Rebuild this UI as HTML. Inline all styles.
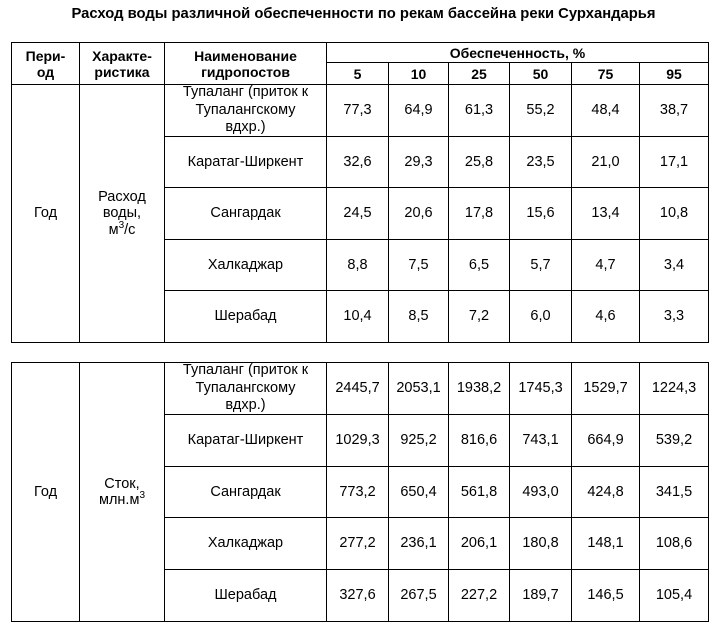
<!DOCTYPE html>
<html><head><meta charset="utf-8">
<style>
html,body{margin:0;padding:0;background:#fff;}
body{width:719px;height:630px;position:relative;overflow:hidden;font-family:"Liberation Sans",Arial,sans-serif;color:#000;}
.t{position:absolute;left:0;top:0;width:727px;height:28px;line-height:28px;text-align:center;font-weight:bold;font-size:14.8px;}
.c{position:absolute;box-sizing:border-box;border:1px solid #000;display:flex;align-items:center;justify-content:center;text-align:center;font-size:14.5px;line-height:16.5px;white-space:nowrap;}
.c > span{display:block;}
.m{line-height:17.5px;}
.h{font-weight:bold;font-size:14px;line-height:16px;}
sup{font-size:10px;vertical-align:top;position:relative;top:-1px;line-height:10px;}
</style></head><body>
<div class="t">Расход воды различной обеспеченности по рекам бассейна реки Сурхандарья</div>

<!-- Table 1 header -->
<div class="c h" style="left:11px;top:42px;width:69px;height:43px;"><span>Пери-<br>од</span></div>
<div class="c h" style="left:79px;top:42px;width:86px;height:43px;"><span>Характе-<br>ристика</span></div>
<div class="c h" style="left:164px;top:42px;width:163px;height:43px;"><span>Наименование<br>гидропостов</span></div>
<div class="c h" style="left:326px;top:42px;width:383px;height:21px;"><span>Обеспеченность, %</span></div>
<div class="c h" style="left:326px;top:62px;width:63px;height:23px;">5</div>
<div class="c h" style="left:388px;top:62px;width:61px;height:23px;">10</div>
<div class="c h" style="left:448px;top:62px;width:62px;height:23px;">25</div>
<div class="c h" style="left:509px;top:62px;width:63px;height:23px;">50</div>
<div class="c h" style="left:571px;top:62px;width:69px;height:23px;">75</div>
<div class="c h" style="left:639px;top:62px;width:70px;height:23px;">95</div>

<!-- Table 1 body -->
<div class="c" style="left:11px;top:84px;width:69px;height:259px;">Год</div>
<div class="c" style="left:79px;top:84px;width:86px;height:259px;"><span>Расход<br>воды,<br>м<sup>3</sup>/с</span></div>

<div class="c m" style="left:164px;top:84px;width:163px;height:53px;"><span>Тупаланг (приток к<br>Тупалангскому<br>вдхр.)</span></div>
<div class="c" style="left:326px;top:84px;width:63px;height:53px;">77,3</div>
<div class="c" style="left:388px;top:84px;width:61px;height:53px;">64,9</div>
<div class="c" style="left:448px;top:84px;width:62px;height:53px;">61,3</div>
<div class="c" style="left:509px;top:84px;width:63px;height:53px;">55,2</div>
<div class="c" style="left:571px;top:84px;width:69px;height:53px;">48,4</div>
<div class="c" style="left:639px;top:84px;width:70px;height:53px;">38,7</div>

<div class="c" style="left:164px;top:136px;width:163px;height:52px;">Каратаг-Ширкент</div>
<div class="c" style="left:326px;top:136px;width:63px;height:52px;">32,6</div>
<div class="c" style="left:388px;top:136px;width:61px;height:52px;">29,3</div>
<div class="c" style="left:448px;top:136px;width:62px;height:52px;">25,8</div>
<div class="c" style="left:509px;top:136px;width:63px;height:52px;">23,5</div>
<div class="c" style="left:571px;top:136px;width:69px;height:52px;">21,0</div>
<div class="c" style="left:639px;top:136px;width:70px;height:52px;">17,1</div>

<div class="c" style="left:164px;top:187px;width:163px;height:53px;">Сангардак</div>
<div class="c" style="left:326px;top:187px;width:63px;height:53px;">24,5</div>
<div class="c" style="left:388px;top:187px;width:61px;height:53px;">20,6</div>
<div class="c" style="left:448px;top:187px;width:62px;height:53px;">17,8</div>
<div class="c" style="left:509px;top:187px;width:63px;height:53px;">15,6</div>
<div class="c" style="left:571px;top:187px;width:69px;height:53px;">13,4</div>
<div class="c" style="left:639px;top:187px;width:70px;height:53px;">10,8</div>

<div class="c" style="left:164px;top:239px;width:163px;height:52px;">Халкаджар</div>
<div class="c" style="left:326px;top:239px;width:63px;height:52px;">8,8</div>
<div class="c" style="left:388px;top:239px;width:61px;height:52px;">7,5</div>
<div class="c" style="left:448px;top:239px;width:62px;height:52px;">6,5</div>
<div class="c" style="left:509px;top:239px;width:63px;height:52px;">5,7</div>
<div class="c" style="left:571px;top:239px;width:69px;height:52px;">4,7</div>
<div class="c" style="left:639px;top:239px;width:70px;height:52px;">3,4</div>

<div class="c" style="left:164px;top:290px;width:163px;height:53px;">Шерабад</div>
<div class="c" style="left:326px;top:290px;width:63px;height:53px;">10,4</div>
<div class="c" style="left:388px;top:290px;width:61px;height:53px;">8,5</div>
<div class="c" style="left:448px;top:290px;width:62px;height:53px;">7,2</div>
<div class="c" style="left:509px;top:290px;width:63px;height:53px;">6,0</div>
<div class="c" style="left:571px;top:290px;width:69px;height:53px;">4,6</div>
<div class="c" style="left:639px;top:290px;width:70px;height:53px;">3,3</div>

<!-- Table 2 -->
<div class="c" style="left:11px;top:362px;width:69px;height:260px;">Год</div>
<div class="c" style="left:79px;top:362px;width:86px;height:260px;"><span>Сток,<br>млн.м<sup>3</sup></span></div>

<div class="c m" style="left:164px;top:362px;width:163px;height:53px;"><span>Тупаланг (приток к<br>Тупалангскому<br>вдхр.)</span></div>
<div class="c" style="left:326px;top:362px;width:63px;height:53px;">2445,7</div>
<div class="c" style="left:388px;top:362px;width:61px;height:53px;">2053,1</div>
<div class="c" style="left:448px;top:362px;width:62px;height:53px;">1938,2</div>
<div class="c" style="left:509px;top:362px;width:63px;height:53px;">1745,3</div>
<div class="c" style="left:571px;top:362px;width:69px;height:53px;">1529,7</div>
<div class="c" style="left:639px;top:362px;width:70px;height:53px;">1224,3</div>

<div class="c" style="left:164px;top:414px;width:163px;height:53px;">Каратаг-Ширкент</div>
<div class="c" style="left:326px;top:414px;width:63px;height:53px;">1029,3</div>
<div class="c" style="left:388px;top:414px;width:61px;height:53px;">925,2</div>
<div class="c" style="left:448px;top:414px;width:62px;height:53px;">816,6</div>
<div class="c" style="left:509px;top:414px;width:63px;height:53px;">743,1</div>
<div class="c" style="left:571px;top:414px;width:69px;height:53px;">664,9</div>
<div class="c" style="left:639px;top:414px;width:70px;height:53px;">539,2</div>

<div class="c" style="left:164px;top:466px;width:163px;height:52px;">Сангардак</div>
<div class="c" style="left:326px;top:466px;width:63px;height:52px;">773,2</div>
<div class="c" style="left:388px;top:466px;width:61px;height:52px;">650,4</div>
<div class="c" style="left:448px;top:466px;width:62px;height:52px;">561,8</div>
<div class="c" style="left:509px;top:466px;width:63px;height:52px;">493,0</div>
<div class="c" style="left:571px;top:466px;width:69px;height:52px;">424,8</div>
<div class="c" style="left:639px;top:466px;width:70px;height:52px;">341,5</div>

<div class="c" style="left:164px;top:517px;width:163px;height:53px;">Халкаджар</div>
<div class="c" style="left:326px;top:517px;width:63px;height:53px;">277,2</div>
<div class="c" style="left:388px;top:517px;width:61px;height:53px;">236,1</div>
<div class="c" style="left:448px;top:517px;width:62px;height:53px;">206,1</div>
<div class="c" style="left:509px;top:517px;width:63px;height:53px;">180,8</div>
<div class="c" style="left:571px;top:517px;width:69px;height:53px;">148,1</div>
<div class="c" style="left:639px;top:517px;width:70px;height:53px;">108,6</div>

<div class="c" style="left:164px;top:569px;width:163px;height:53px;">Шерабад</div>
<div class="c" style="left:326px;top:569px;width:63px;height:53px;">327,6</div>
<div class="c" style="left:388px;top:569px;width:61px;height:53px;">267,5</div>
<div class="c" style="left:448px;top:569px;width:62px;height:53px;">227,2</div>
<div class="c" style="left:509px;top:569px;width:63px;height:53px;">189,7</div>
<div class="c" style="left:571px;top:569px;width:69px;height:53px;">146,5</div>
<div class="c" style="left:639px;top:569px;width:70px;height:53px;">105,4</div>
</body></html>
